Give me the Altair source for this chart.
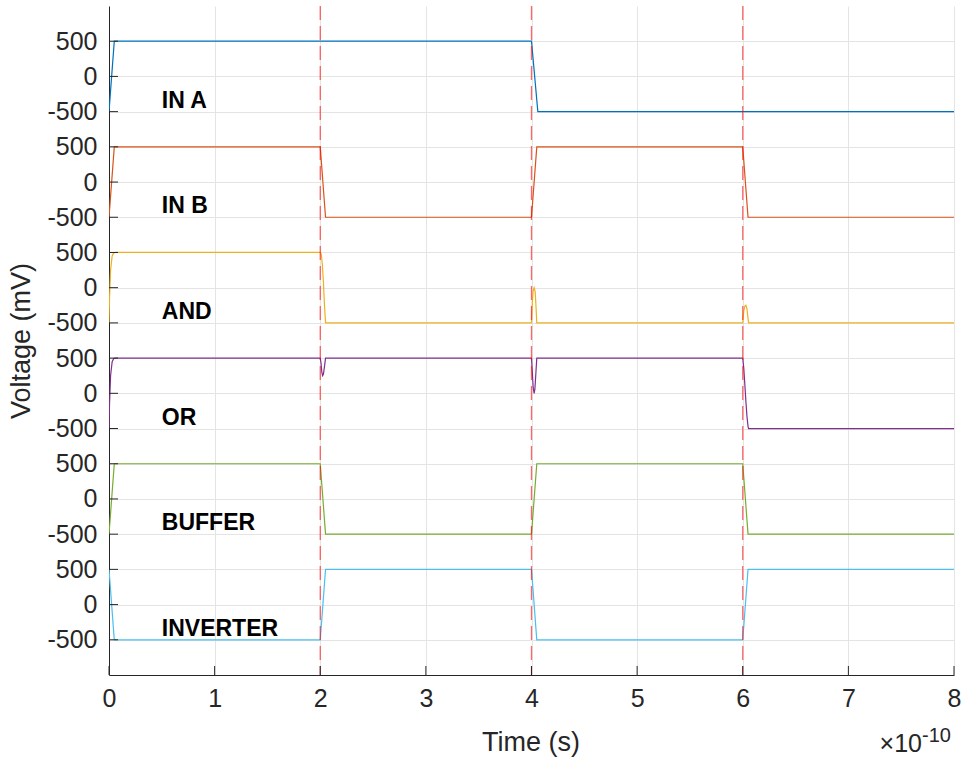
import altair as alt
import pandas as pd

# ---------------- data ----------------
names = ["IN A", "IN B", "AND", "OR", "BUFFER", "INVERTER"]
offsets = [7500, 6000, 4500, 3000, 1500, 0]   # mV vertical stacking offset per trace
colors = ["#0072BD", "#D95319", "#EDB120", "#7E2F8E", "#77AC30", "#4DBEEE"]

# time in units of 1e-10 s, voltage in mV
in_a_t = [0, 0.05, 4.0, 4.06, 8]
in_a_v = [-500, 500, 500, -500, -500]

in_b_t = [0, 0.05, 2.0, 2.05, 4.0, 4.05, 6.0, 6.05, 8]
in_b_v = [-500, 500, 500, -500, -500, 500, 500, -500, -500]

and_t = [0, 0.005, 0.015, 0.03, 0.045, 0.06,
         2.0, 2.01, 2.02, 2.03, 2.04, 2.05,
         4.0, 4.008, 4.016, 4.025, 4.035, 4.042, 4.05,
         6.0, 6.01, 6.02, 6.03, 6.04, 6.047, 6.055, 8]
and_v = [-500, -150, 250, 450, 495, 500,
         500, 470, 330, 80, -250, -500,
         -500, -200, -40, 0, -60, -250, -500,
         -500, -330, -260, -250, -300, -400, -500, -500]

or_t = [0, 0.005, 0.015, 0.03, 0.045, 0.06,
        2.0, 2.008, 2.015, 2.022, 2.03, 2.04, 2.05,
        4.0, 4.008, 4.016, 4.025, 4.032, 4.042, 4.05,
        6.0, 6.01, 6.02, 6.03, 6.04, 6.05, 6.055, 8]
or_v = [-500, -150, 250, 450, 495, 500,
        500, 420, 300, 250, 270, 380, 500,
        500, 300, 80, 0, 60, 300, 500,
        500, 350, 120, -120, -330, -470, -500, -500]

buf_t = [0, 0.05, 2.0, 2.05, 4.0, 4.05, 6.0, 6.05, 8]
buf_v = [-500, 500, 500, -500, -500, 500, 500, -500, -500]

inv_t = [0, 0.05, 2.0, 2.05, 4.0, 4.05, 6.0, 6.05, 8]
inv_v = [500, -500, -500, 500, 500, -500, -500, 500, 500]

series_t = [in_a_t, in_b_t, and_t, or_t, buf_t, inv_t]
series_v = [in_a_v, in_b_v, and_v, or_v, buf_v, inv_v]

edges = [2, 4, 6]                 # dashed red markers
x_ticks = [0, 1, 2, 3, 4, 5, 6, 7, 8]
rel_ticks = [-500, 0, 500]
label_x = 0.5

# ---------------- tables ----------------
rows = []
for name, off, ts, vs in zip(names, offsets, series_t, series_v):
    for i, (t, v) in enumerate(zip(ts, vs)):
        rows.append({"signal": name, "i": i, "t": t, "y": v + off})
df = pd.DataFrame(rows)

y_ticks = sorted(off + r for off in offsets for r in rel_ticks)
lab_df = pd.DataFrame({"signal": names, "t": [label_x] * len(names),
                       "y": [off - 445 for off in offsets]})

W, H = 845, 669
FONT = "Liberation Sans"
AX = "#262626"

xscale = alt.Scale(domain=[0, 8], nice=False, zero=False)
yscale = alt.Scale(domain=[-1000, 8500], nice=False, zero=False)
xaxis = alt.Axis(values=x_ticks, title=None, grid=True, gridColor="#e4e4e4",
                 ticks=False, labelFontSize=25, labelColor=AX, labelPadding=11,
                 domainColor=AX, format="d", labelFont=FONT,
                 labelFlush=False, labelOverlap=False)
yaxis = alt.Axis(values=y_ticks, title=None, grid=True, gridColor="#e4e4e4",
                 ticks=False, labelFontSize=25, labelColor=AX, labelPadding=12,
                 domainColor=AX, labelFont=FONT, labelFlush=False, labelOverlap=False,
                 labelExpr="(datum.value + 500) % 1500 - 500")


def X():
    return alt.X("t:Q", scale=xscale, axis=xaxis)


def Y():
    return alt.Y("y:Q", scale=yscale, axis=yaxis)


lines = alt.Chart(df).mark_line(strokeWidth=1.2, clip=True).encode(
    x=X(), y=Y(),
    color=alt.Color("signal:N", scale=alt.Scale(domain=names, range=colors), legend=None),
    detail="signal:N",
    order="i:Q",
)

vlines = alt.Chart(pd.DataFrame({"t": edges})).mark_rule(
    color="#ff0000", opacity=0.6, strokeDash=[14, 6], strokeWidth=1.3
).encode(x=X())

ytick_marks = alt.Chart(pd.DataFrame({"y": y_ticks})).mark_rule(color=AX, strokeWidth=1).encode(
    y=Y(), x=alt.value(0), x2=alt.value(9))
xtick_marks = alt.Chart(pd.DataFrame({"t": x_ticks})).mark_rule(color=AX, strokeWidth=1).encode(
    x=X(), y=alt.value(H), y2=alt.value(H - 9))

labels = alt.Chart(lab_df).mark_text(
    font=FONT, fontWeight="bold", fontSize=23, align="left", baseline="alphabetic", color="black"
).encode(x=X(), y=Y(), text="signal:N")

one = pd.DataFrame({"k": [0]})
ytitle = alt.Chart(one).mark_text(
    text="Voltage (mV)", font=FONT, fontSize=27, angle=270, align="center", baseline="middle", color=AX
).encode(x=alt.value(-87), y=alt.value(335))
xtitle = alt.Chart(one).mark_text(
    text="Time (s)", font=FONT, fontSize=27, align="center", baseline="alphabetic", color=AX
).encode(x=alt.value(422), y=alt.value(745))
mult = alt.Chart(one).mark_text(
    text="×10", font=FONT, fontSize=25, align="right", baseline="alphabetic", color=AX
).encode(x=alt.value(813), y=alt.value(746))
expo = alt.Chart(one).mark_text(
    text="-10", font=FONT, fontSize=20, align="left", baseline="alphabetic", color=AX
).encode(x=alt.value(813), y=alt.value(736))

chart = alt.layer(lines, vlines, ytick_marks, xtick_marks, labels, ytitle, xtitle, mult, expo).properties(
    width=W, height=H,
    autosize=alt.AutoSizeParams(type="none"),
    padding={"left": 109, "top": 6, "right": 10, "bottom": 83},
).configure_view(stroke=None)

chart.save("out.html", embed_options={"renderer": "svg", "actions": False})
